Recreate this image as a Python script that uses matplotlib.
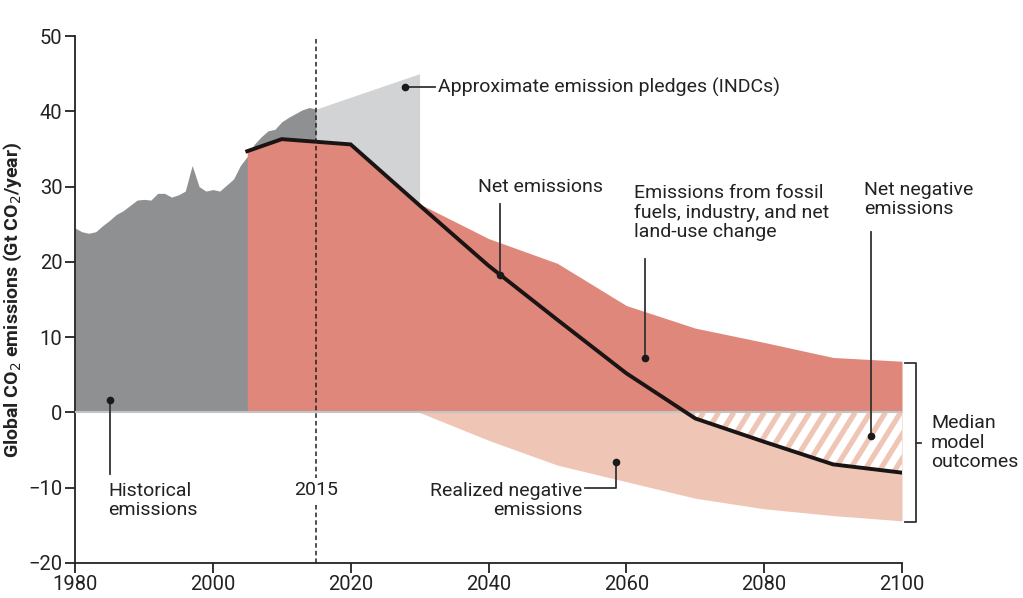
import matplotlib
matplotlib.use('Agg')
import matplotlib.pyplot as plt
import numpy as np

plt.rcParams['font.family'] = ['Roboto', 'DejaVu Sans']

# historical emissions (Gt CO2/year)
hist_years = np.arange(1980, 2016)
hist_vals = [24.5, 24.0, 23.8, 24.0, 24.8, 25.5, 26.3, 26.8, 27.5, 28.2,
             28.3, 28.2, 29.1, 29.1, 28.6, 28.9, 29.4, 32.8, 30.0, 29.4,
             29.6, 29.4, 30.2, 31.0, 32.8, 34.0, 35.6, 36.6, 37.4, 37.6,
             38.6, 39.2, 39.7, 40.2, 40.5, 40.3]

# emission pledges (INDCs)
indc_years = [2015, 2030]
indc_vals = [40.3, 45.0]

# fossil fuels, industry and land-use (top of red band)
model_years = [2005, 2010, 2020, 2030, 2040, 2050, 2060, 2070, 2080, 2090, 2100]
fossil_vals = [34.7, 36.3, 35.6, 27.7, 23.1, 19.8, 14.2, 11.2, 9.3, 7.3, 6.8]
net_vals = [34.7, 36.3, 35.6, 27.5, 19.5, 12.3, 5.2, -0.8, -3.9, -6.9, -8.0]
negative_vals = [0.0, 0.0, 0.0, 0.0, -3.7, -7.0, -9.2, -11.4, -12.8, -13.7, -14.4]

fig = plt.figure(figsize=(10.23, 5.98), dpi=100)
ax = fig.add_axes([75/1023, 1-563/598, 827/1023, 527/598])

gray_dark = '#8f9092'
gray_light = '#d2d3d5'
red = '#e0877b'
salmon = '#efc6b5'

ax.fill_between(hist_years, 0, hist_vals, color=gray_dark, lw=0, zorder=1)
ax.fill_between(indc_years, 0, indc_vals, color=gray_light, lw=0, zorder=1)
ax.fill_between(model_years, 0, fossil_vals, color=red, lw=0, zorder=2)
ax.fill_between(model_years, negative_vals, 0, color=salmon, lw=0, zorder=2)

# net negative part: white with diagonal salmon stripes
my = np.array(model_years)
nv = np.array(net_vals)
mask = my >= 2070
patch = ax.fill_between(my[mask], nv[mask], 0, facecolor='white', lw=0, zorder=3)
for x0 in np.arange(2040, 2110, 2.2):
    ln, = ax.plot([x0, x0 + 13.6], [-20, 0], color=salmon, lw=3.8,
                  zorder=3.2, solid_capstyle='butt')
    ln.set_clip_path(patch.get_paths()[0], transform=ax.transData)

ax.plot([1980, 2100], [0, 0], color='#c4c4c4', lw=1.5, zorder=3.5)

ax.plot(model_years, net_vals, color='#1a1414', lw=2.8, zorder=4,
        solid_joinstyle='miter')

ax.axvline(2015, color='#222222', lw=1.1, ls=(0, (3, 2)), zorder=5)

ax.set_xlim(1980, 2100)
ax.set_ylim(-20, 50)
ax.set_xticks([1980, 2000, 2020, 2040, 2060, 2080, 2100])
ax.set_yticks([-20, -10, 0, 10, 20, 30, 40, 50])
ax.set_yticklabels(['\u221220', '\u221210', '0', '10', '20', '30', '40', '50'])
for s in ['top', 'right']:
    ax.spines[s].set_visible(False)
for s in ['left', 'bottom']:
    ax.spines[s].set_linewidth(1.3)
    ax.spines[s].set_color('#222222')
ax.tick_params(length=7, width=1.3, color='#222222', labelsize=14.5,
               labelcolor='#222222', pad=2)
ax.set_ylabel('Global CO$_2$ emissions (Gt CO$_2$/year)', fontsize=14,
              fontweight='bold', color='#222222', labelpad=3)

tc = '#222222'
fs = 14
dot = dict(marker='o', ms=4.5, color='#1a1a1a', zorder=7, clip_on=False)
lead = dict(color='#333333', lw=1.3, zorder=6, clip_on=False)

# INDC label
ax.plot([2027.9], [43.2], **dot)
ax.plot([2027.9, 2032.2], [43.2, 43.2], **lead)
ax.text(2032.6, 43.2, 'Approximate emission pledges (INDCs)', fontsize=fs,
        color=tc, va='center', ha='left')

# Net emissions
ax.plot([2041.6], [18.2], **dot)
ax.plot([2041.6, 2041.6], [18.2, 27.7], **lead)
ax.text(2047.6, 29.9, 'Net emissions', fontsize=fs, color=tc,
        va='center', ha='center')

# fossil fuels
ax.plot([2062.7], [7.2], **dot)
ax.plot([2062.7, 2062.7], [7.2, 20.4], **lead)
ax.text(2061.1, 26.5, 'Emissions from fossil\nfuels, industry, and net\nland-use change',
        fontsize=fs, color=tc, va='center', ha='left', linespacing=1.1)

# net negative
ax.plot([2095.5], [-3.1], **dot)
ax.plot([2095.5, 2095.5], [-3.1, 23.9], **lead)
ax.text(2094.5, 28.3, 'Net negative\nemissions', fontsize=fs, color=tc,
        va='center', ha='left', linespacing=1.1)

# historical
ax.plot([1985.1], [1.7], **dot)
ax.plot([1985.1, 1985.1], [1.7, -8.2], **lead)
ax.text(1984.8, -11.7, 'Historical\nemissions', fontsize=fs, color=tc,
        va='center', ha='left', linespacing=1.1)

# 2015
ax.text(2015, -10.3, '2015', fontsize=fs, color=tc, va='center', ha='center',
        zorder=6, bbox=dict(facecolor='white', edgecolor='none', pad=2))

# realized negative
ax.plot([2058.5], [-6.6], **dot)
ax.plot([2058.5, 2058.5, 2054.0], [-6.6, -10.0, -10.0], **lead)
ax.text(2053.6, -11.7, 'Realized negative\nemissions', fontsize=fs, color=tc,
        va='center', ha='right', multialignment='right', linespacing=1.1)

# bracket for median model outcomes
bx = 2102.0
ax.plot([bx - 1.5, bx, bx, bx - 1.5], [6.6, 6.6, -14.6, -14.6],
        color='#333333', lw=1.3, clip_on=False)
ax.plot([bx, bx + 0.8], [-4.0, -4.0], color='#333333', lw=1.3, clip_on=False)
ax.text(bx + 2.2, -4.0, 'Median\nmodel\noutcomes', fontsize=fs, color=tc,
        va='center', ha='left', linespacing=1.1)

fig.savefig('out.png', dpi=100)
